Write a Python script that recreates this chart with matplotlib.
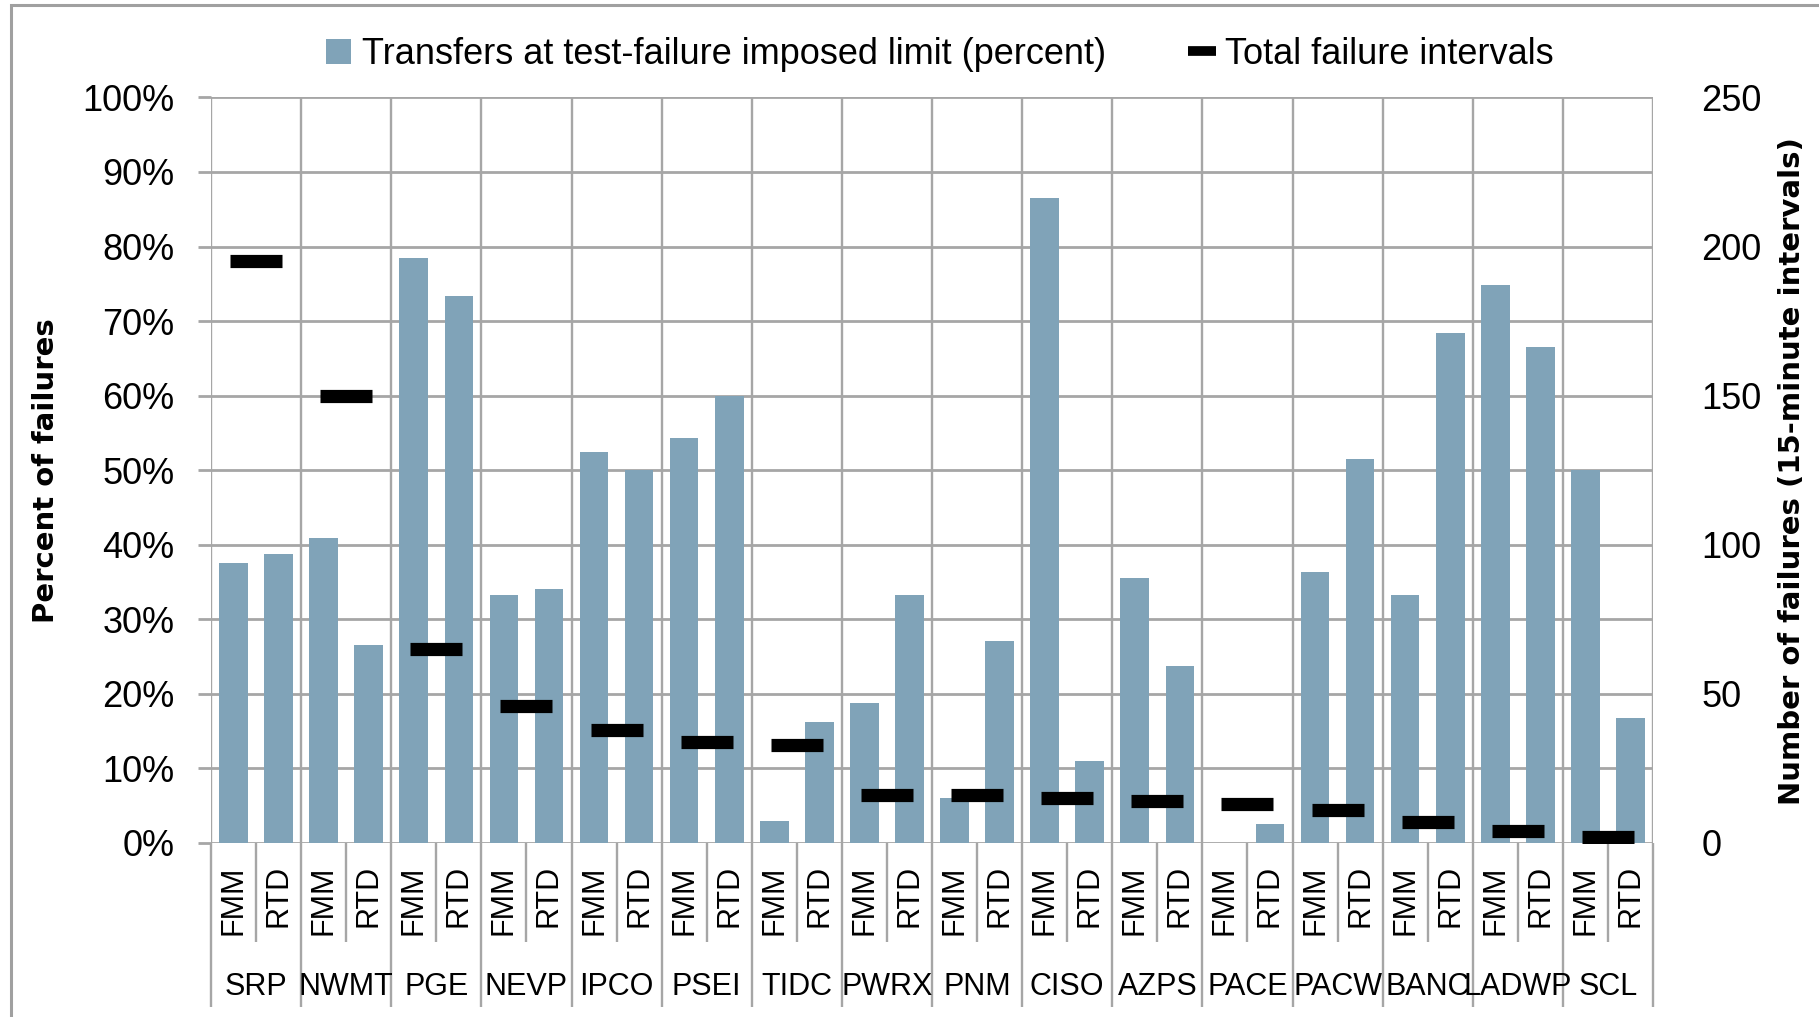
import matplotlib
matplotlib.use("Agg")
import matplotlib.pyplot as plt
from matplotlib.lines import Line2D
from matplotlib.patches import Patch, Rectangle
import numpy as np

groups = ["SRP", "NWMT", "PGE", "NEVP", "IPCO", "PSEI", "TIDC", "PWRX", "PNM",
          "CISO", "AZPS", "PACE", "PACW", "BANC", "LADWP", "SCL"]
models = ["FMM", "RTD"]
fmm_pct = [37.5, 40.9, 78.4, 33.3, 52.5, 54.3, 3.0, 18.8, 6.1, 86.5, 35.6, 0.0, 36.4, 33.3, 74.8, 50.0]
rtd_pct = [38.8, 26.6, 73.3, 34.1, 50.0, 60.0, 16.2, 33.3, 27.1, 11.0, 23.7, 2.5, 51.5, 68.4, 66.5, 16.7]
total_intervals = [195, 150, 65, 46, 38, 34, 33, 16, 16, 15, 14, 13, 11, 7, 4, 2]

left_ticks = list(range(0, 101, 10))
right_ticks = list(range(0, 251, 50))

NARROW = ["Liberation Sans Narrow", "Liberation Sans", "DejaVu Sans"]
BAR_COLOR = "#80A3B8"
GRID = "#A6A6A6"

W, H = 1819, 1017
fig = plt.figure(figsize=(W / 100, H / 100), dpi=100)
fig.patches.append(Rectangle((11 / W, -0.05), 1.2, 1.05 - 5 / H, transform=fig.transFigure,
                             fill=False, edgecolor="#A0A0A0", linewidth=2.2))

ax = fig.add_axes([211 / W, 1 - 843 / H, (1653 - 211) / W, (843 - 97.4) / H])
n = len(groups)
idx = np.arange(n)
bw = 0.318
fmm_x = idx + 0.25
rtd_x = idx + 0.75
ax.bar(fmm_x, fmm_pct, width=bw, color=BAR_COLOR, zorder=2)
ax.bar(rtd_x, rtd_pct, width=bw, color=BAR_COLOR, zorder=2)

ax.set_xlim(0, n)
ax.set_ylim(0, 100)
ax.set_yticks(left_ticks, [f"{t}%" for t in left_ticks])
for s in ax.spines.values():
    s.set_visible(False)
ax.set_axisbelow(True)
ax.grid(axis="y", which="major", color=GRID, linewidth=2.0, zorder=0)
ax.set_xticks(np.arange(n + 1), minor=True)
ax.grid(axis="x", which="minor", color=GRID, linewidth=1.7, zorder=0)
ax.tick_params(axis="y", which="major", direction="out", length=9.5, width=2.0, color=GRID,
               pad=17, labelsize=26)
for lab in ax.get_yticklabels():
    lab.set_family(NARROW)

positions = np.concatenate([fmm_x, rtd_x])
labels = [models[0]] * n + [models[1]] * n
ax.set_xticks(positions, labels, rotation=90)
ax.tick_params(axis="x", which="major", length=0, pad=16, labelsize=22)
for lab in ax.get_xticklabels():
    lab.set_family(NARROW)
ax.tick_params(axis="x", which="minor", direction="out", length=118, width=1.7, color=GRID)

xt = ax.get_xaxis_transform()
ax.vlines(idx + 0.5, -(942 - 843) / 745.6, 0, transform=xt, colors=GRID, linewidth=1.7,
          clip_on=False)
for i, g in enumerate(groups):
    ax.text(i + 0.5, -(987 - 843) / 745.6, g, transform=xt, ha="center", va="center",
            fontsize=22, family=NARROW)

ax2 = ax.twinx()
ax2.set_ylim(0, 250)
ax2.set_yticks(right_ticks)
for s in ax2.spines.values():
    s.set_visible(False)
ax2.tick_params(axis="y", length=0, pad=35, labelsize=26)
for lab in ax2.get_yticklabels():
    lab.set_family(NARROW)
ax2.plot(idx + 0.5, total_intervals, ls="none", marker="_", ms=37, mew=9.5, color="black",
         zorder=3)

fig.text(46 / W, 1 - 471 / H, "Percent of failures", rotation=90, ha="center", va="center",
         fontsize=21, fontweight="bold", family="DejaVu Sans")
fig.text(1792 / W, 1 - 471 / H, "Number of failures (15-minute intervals)", rotation=90,
         ha="center", va="center", fontsize=21, fontweight="bold", family="DejaVu Sans")

handles = [Patch(facecolor=BAR_COLOR, edgecolor="none"),
           Line2D([], [], ls="none", marker="_", ms=20, mew=7, color="black")]
leg = fig.legend(handles, ["Transfers at test-failure imposed limit (percent)",
                           "Total failure intervals"],
                 loc="center", bbox_to_anchor=(940 / W, 1 - 54.5 / H), ncol=2, frameon=False,
                 prop={"family": NARROW, "size": 26}, handlelength=0.7, handleheight=0.7,
                 handletextpad=0.3, columnspacing=2.3)

fig.savefig("out.png", dpi=100)
